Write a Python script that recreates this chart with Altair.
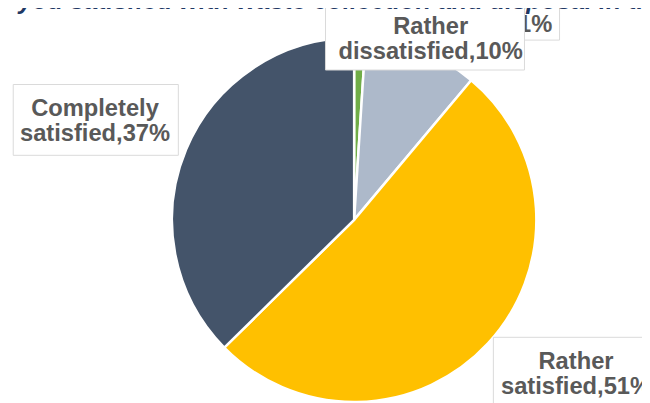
import altair as alt
import pandas as pd

# ---- data ----
categories = ["Completely dissatisfied", "Rather dissatisfied", "Rather satisfied", "Completely satisfied"]
shares = [1, 10, 51, 37]
colors = ["#70AD47", "#ADB9CA", "#FFC000", "#44546A"]
label_lines = [
    ["Completely", "dissatisfied,1%"],
    ["Rather", "dissatisfied,10%"],
    ["Rather", "satisfied,51%"],
    ["Completely", "satisfied,37%"],
]
title_text = "Are you satisfied with waste collection and disposal in the city?"

# ---- layout (pixels, chart coordinates) ----
W, H = 642, 395
cx, cy, R = 350.5, 212, 184.5
# text anchor (center x, first baseline y) and box (x, x2, y, y2) for each label
label_anchor = [(464.5, -3.0), (428.0, 24.3), (575.2, 363.0), (88.1, 106.7)]
label_box = [(390, 558.5, -50, 30), (321.5, 523, -20, 60.3), (491.5, 680, 331, 420), (5.3, 172.5, 75, 146.7)]
FONT = "Liberation Sans"

pie_df = pd.DataFrame({"category": categories, "share": shares, "order": list(range(len(categories)))})

pie = alt.Chart(pie_df).mark_arc(outerRadius=R, stroke="white", strokeWidth=2.5).encode(
    theta=alt.Theta("share:Q", stack=True),
    order=alt.Order("order:Q", sort="ascending"),
    color=alt.Color("category:N", scale=alt.Scale(domain=categories, range=colors), legend=None),
    x=alt.value(cx),
    y=alt.value(cy),
)

layers = [pie]
for lines, (tx, ty), (bx, bx2, by, by2) in zip(label_lines, label_anchor, label_box):
    d = pd.DataFrame({"label": ["\n".join(lines)]})
    box = alt.Chart(d).mark_rect(fill="white", stroke="#D9D9D9", strokeWidth=1).encode(
        x=alt.value(bx), x2=alt.value(bx2), y=alt.value(by), y2=alt.value(by2)
    )
    txt = alt.Chart(d).mark_text(
        font=FONT, fontSize=24, fontWeight="bold", color="#595959",
        align="center", baseline="alphabetic", lineBreak="\n", lineHeight=25,
    ).encode(text="label:N", x=alt.value(tx), y=alt.value(ty))
    layers += [box, txt]

title_df = pd.DataFrame({"t": [title_text]})
title = alt.Chart(title_df).mark_text(
    font=FONT, fontSize=25.5, fontWeight="bold", fontStyle="italic", color="#1F3864",
    align="left", baseline="alphabetic",
).encode(text="t:N", x=alt.value(-39), y=alt.value(-1.5))
layers.append(title)

chart = alt.layer(*layers).properties(
    width=W, height=H, autosize=alt.AutoSizeParams(type="none"), padding=0
).configure_view(stroke=None)

chart.save("out.html", embed_options={"renderer": "svg", "actions": False})
